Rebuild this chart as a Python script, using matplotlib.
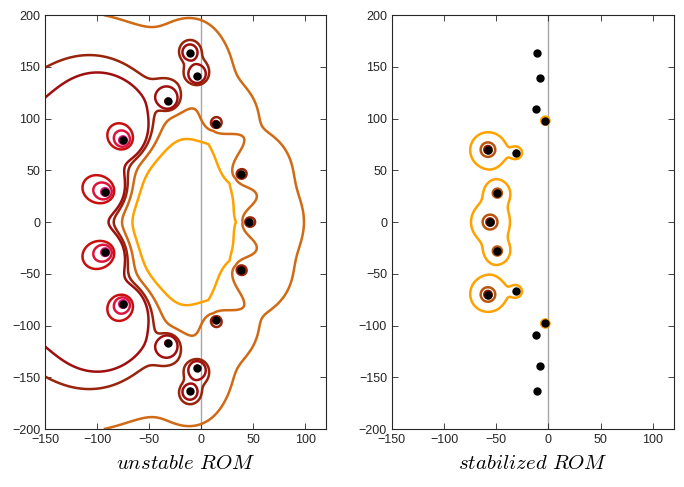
import numpy as np
import matplotlib.pyplot as plt

plt.rcParams['font.family'] = ['Liberation Sans', 'DejaVu Sans']
plt.rcParams['mathtext.fontset'] = 'cm'

# eigenvalues, with a guessed strength, decay
# (outwards / towards the middle of the spectrum) and lobe width for each
unstable_re = [-11, -11, -4, -4, -32, -32, -75, -75, -92, -92, 14, 14, 38, 38, 46]
unstable_im = [163, -163, 141, -141, 117, -117, 79, -79, 29, -29, 95, -95, 46, -46, 0]
unstable_w = [0.2, 0.2, 0.31, 0.31, 0.45, 0.45, 14, 14, 14, 14, 0.06, 0.06, 0.06, 0.06, 0.06]
unstable_qout = [1.5, 1.5, 1.5, 1.5, 1.5, 1.5, 1.72, 1.72, 1.5, 1.5, 0.45, 0.45, 0.45, 0.45, 0.45]
unstable_qin = [2.5, 2.5, 2.5, 2.5, 2.5, 2.5, 3, 3, 3, 3, 1.3, 1.3, 1.3, 1.3, 1.3]
unstable_lobe = [1, 1, 1, 1, 1, 1, 1, 1, 1, 1, 0.5, 0.5, 0.5, 0.5, 0.5]

stable_re = [-11, -11, -8, -8, -12, -12, -3, -3, -58, -58, -31, -31, -49, -49, -56]
stable_im = [163, -163, 139, -139, 109, -109, 98, -98, 70, -70, 67, -67, 28, -28, 0]
stable_w = [0.5, 0.5, 0.5, 0.5, 0.5, 0.5, 2.3, 2.3, 10, 10, 2.8, 2.8, 6, 6, 10]
stable_q = [1] * 15

# points where each contour level crosses
unstable_ref_x = [-72, -69, -114, -89, -84, -76, -66]
unstable_ref_y = [81, 83, 33, 0, 0, 0, 0]
unstable_colors = ['#E6147A', '#DC143C', '#C80F0F', '#A00F0F', '#98240C', '#D06A14', '#FFA200']

stable_ref_x = [-54.5, -51, -75]
stable_ref_y = [70, 70, 70]
stable_colors = ['#8B1A05', '#B8560F', '#FFA200']

xticks = [-150, -100, -50, 0, 50, 100]
yticks = [-200, -150, -100, -50, 0, 50, 100, 150, 200]


def field(re, im, w, qo, qi, lobe, X, Y, r0, p):
    Z = X + 1j * Y
    F = np.zeros(np.shape(X))
    for lr, li, wk, a, b, s in zip(re, im, w, qo, qi, lobe):
        lam = lr + 1j * li
        n = (lam + 20) / abs(lam + 20)
        d = Z - lam
        r = np.abs(d) + 1e-9
        c = (d * np.conj(n)).real / r
        q = b + (a - b) * ((1 + c) / 2) ** s
        F = F + (wk * (r0 / r) ** q) ** p
    return F ** (1.0 / p)


def panel(ax, re, im, w, qo, qi, lobe, ref_x, ref_y, colors, r0, p, label):
    xs = np.linspace(-150, 120, 541)
    ys = np.linspace(-200, 200, 801)
    X, Y = np.meshgrid(xs, ys)
    F = np.minimum(field(re, im, w, qo, qi, lobe, X, Y, r0, p), 1e6)
    lev = field(re, im, w, qo, qi, lobe, np.array(ref_x, float),
                np.array(ref_y, float), r0, p)
    order = np.argsort(lev)
    ax.axvline(0, color='#A6A6A6', lw=1, zorder=0)
    ax.contour(X, Y, F, levels=lev[order], colors=[colors[i] for i in order],
               linewidths=1.8, zorder=2)
    ax.plot(re, im, 'o', color='black', markersize=5, zorder=3)
    ax.set_xlim(-150, 120)
    ax.set_ylim(-200, 200)
    ax.set_xticks(xticks)
    ax.set_yticks(yticks)
    ax.tick_params(direction='in', top=True, right=True, length=4, width=0.6,
                   labelsize=9, colors='#262626')
    for s in ax.spines.values():
        s.set_linewidth(0.8)
        s.set_color('#262626')
    ax.set_xlabel(label, fontsize=15, labelpad=6)


fig = plt.figure(figsize=(6.84, 4.87), dpi=100)
ax1 = fig.add_axes([0.0658, 0.119, 0.411, 0.850])
ax2 = fig.add_axes([0.573, 0.119, 0.412, 0.850])

panel(ax1, unstable_re, unstable_im, unstable_w, unstable_qout, unstable_qin, unstable_lobe,
      unstable_ref_x, unstable_ref_y, unstable_colors, 3.0, 1, r'$unstable\ ROM$')
panel(ax2, stable_re, stable_im, stable_w, stable_q, stable_q, stable_q,
      stable_ref_x, stable_ref_y, stable_colors, 1.0, 2, r'$stabilized\ ROM$')

fig.savefig('out.png', dpi=100)
